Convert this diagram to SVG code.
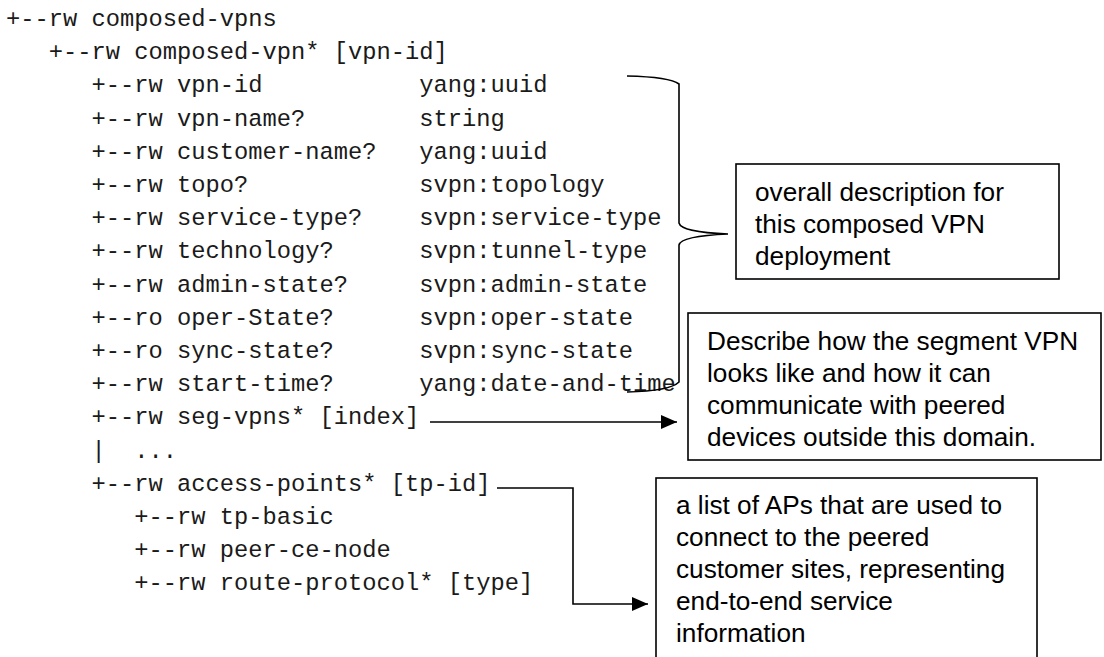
<svg xmlns="http://www.w3.org/2000/svg" width="1104" height="657" viewBox="0 0 1104 657">
<style>
.m{font-family:"Liberation Mono","Courier New",monospace;font-size:23.75px;fill:#1a1a1a;white-space:pre}
.s{font-family:"Liberation Sans",Arial,sans-serif;font-size:26.2px;fill:#000}
.box{fill:#fff;stroke:#000;stroke-width:1.6}
.ln{fill:none;stroke:#000;stroke-width:1.6}
</style>
<defs>
<marker id="ah" markerWidth="16" markerHeight="14" refX="16" refY="7" orient="auto" markerUnits="userSpaceOnUse">
<path d="M0,0 L16,7 L0,14 Z" fill="#000"/>
</marker>
</defs>
<rect width="1104" height="657" fill="#fff"/>
<g id="tree">
<text class="m" x="6" y="26">+--rw composed-vpns</text>
<text class="m" x="48.75" y="59.2">+--rw composed-vpn* [vpn-id]</text>
<text class="m" x="91.5" y="92.4">+--rw vpn-id</text>
<text class="m" x="91.5" y="125.6">+--rw vpn-name?</text>
<text class="m" x="91.5" y="158.8">+--rw customer-name?</text>
<text class="m" x="91.5" y="192">+--rw topo?</text>
<text class="m" x="91.5" y="225.2">+--rw service-type?</text>
<text class="m" x="91.5" y="258.4">+--rw technology?</text>
<text class="m" x="91.5" y="291.6">+--rw admin-state?</text>
<text class="m" x="91.5" y="324.8">+--ro oper-State?</text>
<text class="m" x="91.5" y="358">+--ro sync-state?</text>
<text class="m" x="91.5" y="391.2">+--rw start-time?</text>
<text class="m" x="91.5" y="424.4">+--rw seg-vpns* [index]</text>
<text class="m" x="91.5" y="457.6">|  ...</text>
<text class="m" x="91.5" y="490.8">+--rw access-points* [tp-id]</text>
<text class="m" x="134.25" y="524">+--rw tp-basic</text>
<text class="m" x="134.25" y="557.2">+--rw peer-ce-node</text>
<text class="m" x="134.25" y="590.4">+--rw route-protocol* [type]</text>
<text class="m" x="419.25" y="92.4">yang:uuid</text>
<text class="m" x="419.25" y="125.6">string</text>
<text class="m" x="419.25" y="158.8">yang:uuid</text>
<text class="m" x="419.25" y="192">svpn:topology</text>
<text class="m" x="419.25" y="225.2">svpn:service-type</text>
<text class="m" x="419.25" y="258.4">svpn:tunnel-type</text>
<text class="m" x="419.25" y="291.6">svpn:admin-state</text>
<text class="m" x="419.25" y="324.8">svpn:oper-state</text>
<text class="m" x="419.25" y="358">svpn:sync-state</text>
<text class="m" x="419.25" y="391.2">yang:date-and-time</text>
</g>
<g id="connectors">
<path class="ln" d="M627,76 Q670,77 679,84 L679,223 Q681,232 728,234 Q681,236 679,245 L679,382 Q670,391 627,392"/>
<path class="ln" d="M430,422 L677,422" marker-end="url(#ah)"/>
<path class="ln" d="M497,488 L573,488 L573,604 L648,604" marker-end="url(#ah)"/>
</g>
<g id="box-overall">
<rect class="box" x="736" y="164" width="323" height="115"/>
<text class="s" x="755" y="201">overall description for</text>
<text class="s" x="755" y="233">this composed VPN</text>
<text class="s" x="755" y="265">deployment</text>
</g>
<g id="box-segvpn">
<rect class="box" x="688" y="313" width="413" height="147"/>
<text class="s" x="707" y="350">Describe how the segment VPN</text>
<text class="s" x="707" y="382">looks like and how it can</text>
<text class="s" x="707" y="414">communicate with peered</text>
<text class="s" x="707" y="446">devices outside this domain.</text>
</g>
<g id="box-ap">
<rect class="box" x="656" y="478" width="381" height="200"/>
<text class="s" x="676" y="514">a list of APs that are used to</text>
<text class="s" x="676" y="546">connect to the peered</text>
<text class="s" x="676" y="578">customer sites, representing</text>
<text class="s" x="676" y="610">end-to-end service</text>
<text class="s" x="676" y="642">information</text>
</g>
</svg>
